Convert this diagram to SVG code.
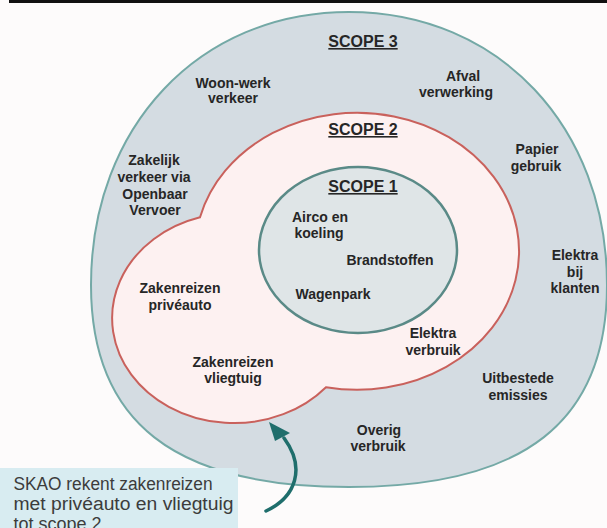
<svg xmlns="http://www.w3.org/2000/svg" width="607" height="528" viewBox="0 0 607 528">
  <style>
    .lbl { font-family: "Liberation Sans", Arial, sans-serif; font-weight: bold; font-size: 14px; fill: #262626; text-anchor: middle; }
    .ttl { font-size: 16px; text-decoration: underline; }
    .note { font-family: "Liberation Sans", Arial, sans-serif; font-size: 18px; fill: #3c3c3c; }
  </style>
  <rect x="0" y="0" width="607" height="528" fill="#fdfbfb"/>
  <rect x="9" y="0" width="598" height="3" fill="#111111"/>

  <g id="scope3">
    <path d="M 349,12 C 499,12 607,127 607,285 C 607,422 524,487 349,487 C 174,487 91,422 91,285 C 91,127 199,12 349,12 Z" fill="#d4dce2" stroke="#74a9a6" stroke-width="2"/>
  </g>
  <g id="scope2">
    <path d="M 200,217.3 A 162 138.5 0 1 1 326,387.2 A 122 105 0 1 1 200,217.3 Z" fill="#fdf1f1" stroke="#c9615c" stroke-width="2"/>
  </g>
  <g id="scope1">
    <ellipse cx="358" cy="250" rx="99" ry="83" fill="#dfe5e7" stroke="#5a8a87" stroke-width="2.5"/>
  </g>

  <g id="title-scope3"><text class="lbl ttl" x="363" y="47">SCOPE 3</text></g>
  <g id="title-scope2"><text class="lbl ttl" x="363" y="135">SCOPE 2</text></g>
  <g id="title-scope1"><text class="lbl ttl" x="363" y="192">SCOPE 1</text></g>

  <g id="woon-werk"><text class="lbl" x="233" y="88">Woon-werk</text><text class="lbl" x="233" y="103">verkeer</text></g>
  <g id="afval"><text class="lbl" x="463" y="81">Afval</text><text class="lbl" x="456" y="97">verwerking</text></g>
  <g id="papier"><text class="lbl" x="537" y="154">Papier</text><text class="lbl" x="536" y="171">gebruik</text></g>
  <g id="zakelijk-ov"><text class="lbl" x="154" y="165">Zakelijk</text><text class="lbl" x="154" y="182">verkeer via</text><text class="lbl" x="155" y="199">Openbaar</text><text class="lbl" x="155" y="215">Vervoer</text></g>
  <g id="elektra-klanten"><text class="lbl" x="575" y="260">Elektra</text><text class="lbl" x="575" y="277">bij</text><text class="lbl" x="575" y="293">klanten</text></g>
  <g id="uitbestede"><text class="lbl" x="518" y="383">Uitbestede</text><text class="lbl" x="518" y="400">emissies</text></g>
  <g id="overig"><text class="lbl" x="379" y="435">Overig</text><text class="lbl" x="378" y="451">verbruik</text></g>

  <g id="zakenreizen-auto"><text class="lbl" x="180" y="293">Zakenreizen</text><text class="lbl" x="180" y="310">privéauto</text></g>
  <g id="zakenreizen-vliegtuig"><text class="lbl" x="233" y="367">Zakenreizen</text><text class="lbl" x="233" y="383">vliegtuig</text></g>
  <g id="elektra-verbruik"><text class="lbl" x="433" y="338">Elektra</text><text class="lbl" x="433" y="355">verbruik</text></g>

  <g id="airco"><text class="lbl" x="320" y="222">Airco en</text><text class="lbl" x="319" y="238">koeling</text></g>
  <g id="brandstoffen"><text class="lbl" x="390" y="265">Brandstoffen</text></g>
  <g id="wagenpark"><text class="lbl" x="333" y="299">Wagenpark</text></g>

  <g id="callout">
    <rect x="0" y="468" width="238" height="60" fill="#d8ecf1"/>
    <text class="note" x="13.5" y="490" textLength="199" lengthAdjust="spacingAndGlyphs">SKAO rekent zakenreizen</text>
    <text class="note" x="13.5" y="510" textLength="220" lengthAdjust="spacingAndGlyphs">met privéauto en vliegtuig</text>
    <text class="note" x="13.5" y="530">tot scope 2</text>
  </g>

  <g id="connectors">
    <path d="M 266,511 C 296,497 306,468 284,438" fill="none" stroke="#1f6e6c" stroke-width="3.5" stroke-linecap="round"/>
    <polygon points="269,422 275,441 290,433" fill="#1f6e6c"/>
  </g>
</svg>
